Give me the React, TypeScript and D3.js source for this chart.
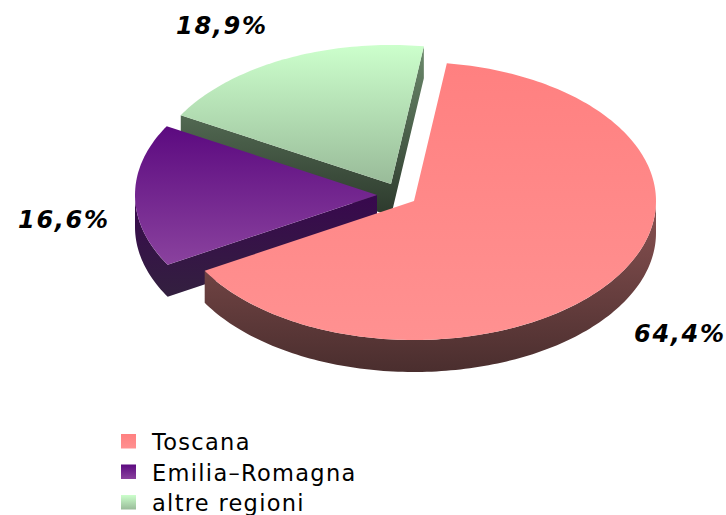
import React from "react";
import * as d3 from "d3";

const categories = ["Toscana", "Emilia–Romagna", "altre regioni"];
const values = [64.4, 16.6, 18.9];
const labels = ["64,4%", "16,6%", "18,9%"];
const topColors = [["#ff8080", "#ff9191"], ["#5c0a80", "#8a429e"], ["#ccffcc", "#99bb99"]];
const wallColors = [["#8a5252", "#4a2e2e"], ["#38084e", "#33203f"], ["#6c8a6c", "#2c392c"]];
const centers: [number, number][] = [[414, 201], [377, 195], [391, 184]];
const labelPos: [number, number][] = [[634, 342], [18, 228], [176, 34]];

const RX = 242, RY = 139, DEPTH = 32;
const pie = d3.pie<number>().sort(null).startAngle((7.8 * Math.PI) / 180).endAngle((367.8 * Math.PI) / 180);
const arcs = pie(values);
const line = d3.line();

function rim(c: [number, number], a0: number, a1: number, dy = 0): [number, number][] {
  const n = Math.max(2, Math.ceil(Math.abs(a1 - a0) / 0.02));
  return d3.range(n + 1).map((i) => {
    const a = a0 + ((a1 - a0) * i) / n;
    return [c[0] + RX * Math.sin(a), c[1] - RY * Math.cos(a) + dy] as [number, number];
  });
}

export default function App() {
  return (
    <svg width={726} height={515} style={{ position: "absolute", left: 0, top: 0, background: "#fff" }}>
      <defs>
        {categories.map((_, i) => (
          <React.Fragment key={i}>
            <linearGradient id={`top${i}`} x1="0" y1="0" x2="0" y2="1">
              <stop offset="0" stopColor={topColors[i][0]} />
              <stop offset="1" stopColor={topColors[i][1]} />
            </linearGradient>
            <linearGradient id={`wall${i}`} x1="0" y1="0" x2="0" y2="1">
              <stop offset="0" stopColor={wallColors[i][0]} />
              <stop offset="1" stopColor={wallColors[i][1]} />
            </linearGradient>
          </React.Fragment>
        ))}
      </defs>
      {[2, 1, 0].map((i) => {
        const { startAngle: s, endAngle: e } = arcs[i];
        const c = centers[i];
        const top = [c, ...rim(c, s, e)] as [number, number][];
        const walls: [number, number][][] = [];
        const radial = (a: number) => {
          const p = rim(c, a, a)[0];
          walls.push([c, p, [p[0], p[1] + DEPTH], [c[0], c[1] + DEPTH]]);
        };
        if (Math.sin(s) < 0) radial(s);
        if (Math.sin(e) > 0) radial(e);
        const lo = Math.max(s, Math.PI / 2), hi = Math.min(e, (3 * Math.PI) / 2);
        if (hi > lo) walls.push([...rim(c, lo, hi), ...rim(c, lo, hi, DEPTH).reverse()]);
        const wallPath = walls.map((w) => line(w) + "Z").join("");
        return (
          <g key={i}>
            <path d={wallPath} fill={`url(#wall${i})`} />
            <path d={line(top) + "Z"} fill={`url(#top${i})`} />
          </g>
        );
      })}
      {labels.map((t, i) => (
        <text key={i} x={labelPos[i][0]} y={labelPos[i][1]} fontFamily="DejaVu Sans" fontWeight="bold" fontStyle="italic" fontSize={24} letterSpacing={1.7}>
          {t}
        </text>
      ))}
      {categories.map((t, i) => {
        const y = 434 + i * 30.5;
        return (
          <g key={i}>
            <rect x={121} y={y} width={15} height={14.5} fill={`url(#top${i})`} />
            <text x={152} y={y + 16} fontFamily="DejaVu Sans" fontSize={22.5} letterSpacing={1.3}>{t}</text>
          </g>
        );
      })}
    </svg>
  );
}
